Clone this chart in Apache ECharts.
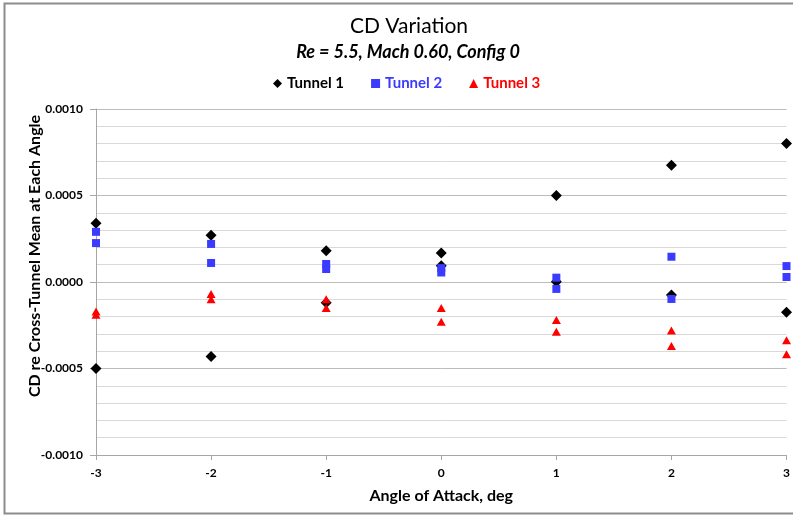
<!DOCTYPE html>
<html>
<head>
<meta charset="utf-8">
<script src="https://cdn.jsdelivr.net/npm/echarts@6/dist/echarts.min.js"></script>
<style>
html,body{margin:0;padding:0;background:#fff;}
#chart{width:793px;height:516px;}
</style>
</head>
<body>
<div id="chart"></div>
<script>
var angles = [-3, -2, -1, 0, 1, 2, 3];
var tunnel1A = [0.00034, 0.00027, 0.00018, 0.000168, 0.00050, 0.000675, 0.00080];
var tunnel1B = [-0.00050, -0.00043, -0.00012, 0.000094, 0.000002, -0.000075, -0.000175];
var tunnel2A = [0.00029, 0.00022, 0.000104, 0.00008, 0.000025, 0.000146, 0.000092];
var tunnel2B = [0.000225, 0.00011, 0.000075, 0.000055, -0.00004, -0.000098, 0.000029];
var tunnel3A = [-0.00017, -0.00007, -0.00010, -0.00015, -0.00022, -0.00028, -0.000337];
var tunnel3B = [-0.00019, -0.00010, -0.00015, -0.00023, -0.000287, -0.00037, -0.000418];
var yTicks = [-0.0010, -0.0005, 0.0000, 0.0005, 0.0010];

function pairs(a, b) {
  var out = [];
  for (var i = 0; i < angles.length; i++) {
    out.push([angles[i], a[i]]);
    out.push([angles[i], b[i]]);
  }
  return out;
}

var FONT = 'Lato, "Open Sans", sans-serif';
var chart = echarts.init(document.getElementById('chart'));
chart.setOption({
  animation: false,
  backgroundColor: '#fff',
  title: [{
    text: 'CD Variation',
    left: 404, top: 11, textAlign: 'center',
    textStyle: {fontFamily: FONT, fontSize: 21, fontWeight: 'normal', color: '#000'}
  }, {
    text: 'Re = 5.5, Mach 0.60, Config 0',
    left: 403, top: 38, textAlign: 'center',
    textStyle: {fontFamily: FONT, fontSize: 18, fontWeight: 'bold', fontStyle: 'italic', color: '#000'}
  }],
  legend: {
    left: 268, top: 71,
    itemWidth: 9, itemHeight: 9, itemGap: 27,
    textStyle: {fontFamily: FONT, fontSize: 15, fontWeight: 'bold'},
    data: [
      {name: 'Tunnel 1', icon: 'diamond', textStyle: {color: '#000'}},
      {name: 'Tunnel 2', icon: 'rect', textStyle: {color: '#3b3bff'}},
      {name: 'Tunnel 3', icon: 'triangle', textStyle: {color: '#ff0000'}}
    ]
  },
  grid: {left: 96, right: 4, top: 109, bottom: 61, containLabel: false},
  xAxis: {
    type: 'value', min: -3, max: 3, interval: 1,
    name: 'Angle of Attack, deg', nameLocation: 'middle', nameGap: 33,
    nameTextStyle: {fontFamily: FONT, fontSize: 16, fontWeight: 'bold', color: '#000'},
    axisLine: {onZero: false, lineStyle: {color: '#a6a6a6'}},
    axisTick: {length: 5, lineStyle: {color: '#a6a6a6'}},
    axisLabel: {fontFamily: FONT, fontSize: 12, fontWeight: 'bold', color: '#000', margin: 12},
    splitLine: {show: false}
  },
  yAxis: {
    type: 'value', min: -0.001, max: 0.001, interval: 0.0005,
    axisLine: {show: true, onZero: false, lineStyle: {color: '#a6a6a6'}},
    axisTick: {show: true, length: 6, lineStyle: {color: '#a6a6a6'}},
    axisLabel: {fontFamily: FONT, fontSize: 12, fontWeight: 'bold', color: '#000', margin: 13,
      formatter: function (v) { return v.toFixed(4); }},
    splitLine: {show: true, lineStyle: {color: '#bcbcbc', width: 1}},
    minorTick: {show: false, splitNumber: 5},
    minorSplitLine: {show: true, lineStyle: {color: '#d9d9d9', width: 1}}
  },
  graphic: [{
    type: 'rect', silent: true, z: -1,
    shape: {x: 4.5, y: 3.5, width: 820, height: 510},
    style: {fill: 'none', stroke: '#8c8c8c', lineWidth: 2}
  }, {
    type: 'text', x: 35, y: 256, rotation: Math.PI / 2,
    style: {text: 'CD re Cross-Tunnel Mean at Each Angle', font: 'bold 16px ' + FONT,
      fill: '#000', textAlign: 'center', textVerticalAlign: 'middle'}
  }],
  series: [{
    name: 'Tunnel 1', type: 'scatter', symbol: 'diamond', symbolSize: 11,
    itemStyle: {color: '#000', opacity: 1}, data: pairs(tunnel1A, tunnel1B), z: 3
  }, {
    name: 'Tunnel 2', type: 'scatter', symbol: 'rect', symbolSize: 8,
    itemStyle: {color: '#3b3bff', opacity: 1}, data: pairs(tunnel2A, tunnel2B), z: 4
  }, {
    name: 'Tunnel 3', type: 'scatter', symbol: 'triangle', symbolSize: [9, 8],
    itemStyle: {color: '#ff0000', opacity: 1}, data: pairs(tunnel3A, tunnel3B), z: 5
  }]
});
</script>
</body>
</html>
